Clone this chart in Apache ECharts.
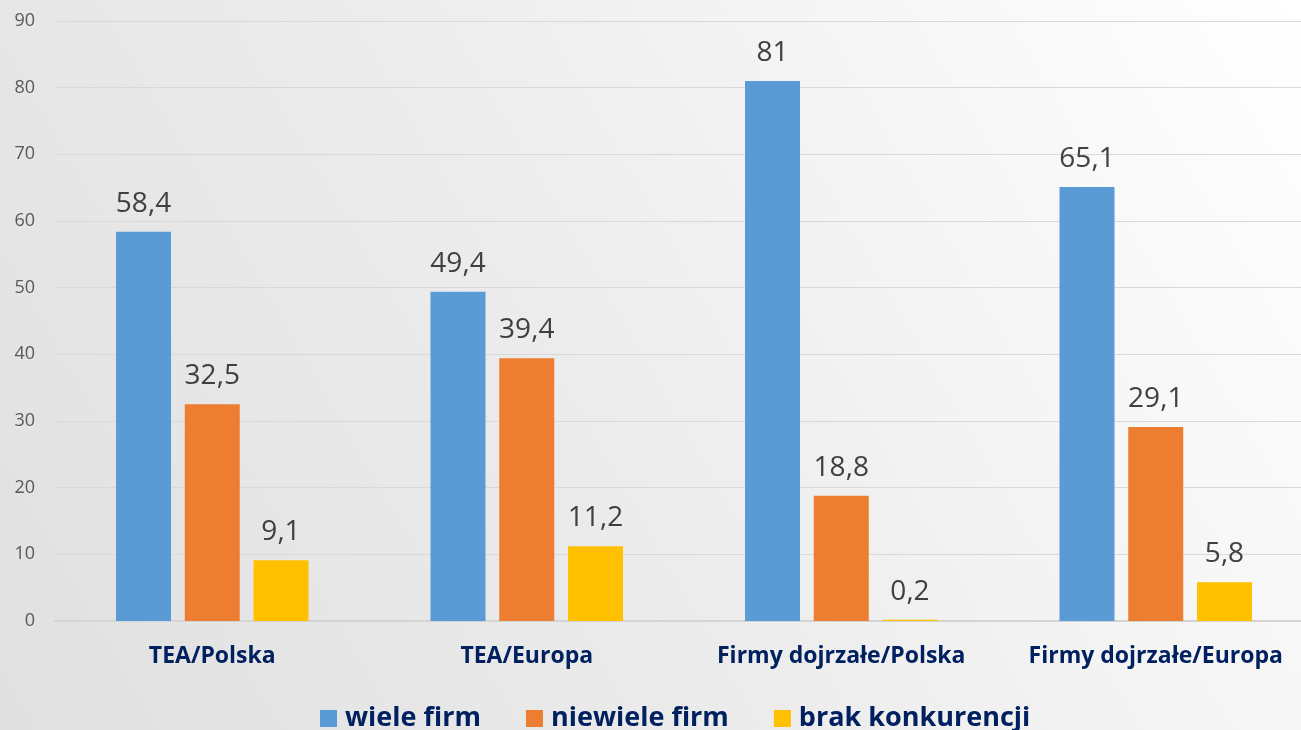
<!DOCTYPE html>
<html>
<head>
<meta charset="utf-8">
<script src="https://cdn.jsdelivr.net/npm/echarts@6/dist/echarts.min.js"></script>
<style>
  html, body { margin: 0; padding: 0; }
  body {
    width: 1301px; height: 730px; overflow: hidden;
    background: linear-gradient(60deg, #e0e0e0 0%, #ececec 45%, #ffffff 100%);
  }
  #chart { width: 1320px; height: 730px; }
</style>
</head>
<body>
<div id="chart"></div>
<script>
// data
const categories = ['TEA/Polska', 'TEA/Europa', 'Firmy dojrzałe/Polska', 'Firmy dojrzałe/Europa']
const wieleFirm = [58.4, 49.4, 81, 65.1]
const niewieleFirm = [32.5, 39.4, 18.8, 29.1]
const brakKonkurencji = [9.1, 11.2, 0.2, 5.8]
const seriesNames = ['wiele firm', 'niewiele firm', 'brak konkurencji']
const colors = ['#5b9bd5', '#ed7d31', '#ffc000']

// the plot runs a little past the right edge of the picture, so the chart div is wider than the page
const chart = echarts.init(document.getElementById('chart'))

const fmt = p => String(p.value).replace('.', ',')

function barSeries(name, data, color) {
  return {
    name,
    type: 'bar',
    data,
    barWidth: 55,
    barGap: '25%',
    itemStyle: { color },
    label: {
      show: true,
      position: 'top',
      distance: 14,
      formatter: fmt,
      fontFamily: 'Open Sans',
      fontSize: 28,
      color: '#404040'
    }
  }
}

chart.setOption({
  backgroundColor: 'transparent',
  color: colors,
  animation: false,
  grid: { left: 55, top: 21, right: 7, bottom: 109 },
  legend: {
    data: seriesNames,
    top: 700,
    left: 315,
    itemWidth: 17,
    itemHeight: 17,
    itemGap: 45,
    icon: 'rect',
    textStyle: {
      fontFamily: 'Open Sans',
      fontWeight: 'bold',
      fontSize: 27,
      color: '#002060',
      padding: [0, 0, 0, 3]
    }
  },
  xAxis: {
    type: 'category',
    data: categories,
    axisTick: { show: false },
    axisLine: { lineStyle: { color: '#d4d4d4', width: 2 } },
    axisLabel: {
      interval: 0,
      margin: 24,
      fontFamily: 'Open Sans',
      fontWeight: 'bold',
      fontSize: 23,
      color: '#002060'
    }
  },
  yAxis: {
    type: 'value',
    min: 0,
    max: 90,
    interval: 10,
    axisLine: { show: false },
    axisTick: { show: false },
    splitLine: { lineStyle: { color: '#d9d9d9', width: 1 } },
    axisLabel: {
      margin: 20,
      fontFamily: 'Open Sans',
      fontSize: 18,
      color: '#595959'
    }
  },
  series: [
    barSeries(seriesNames[0], wieleFirm, colors[0]),
    barSeries(seriesNames[1], niewieleFirm, colors[1]),
    barSeries(seriesNames[2], brakKonkurencji, colors[2])
  ]
})
</script>
</body>
</html>
